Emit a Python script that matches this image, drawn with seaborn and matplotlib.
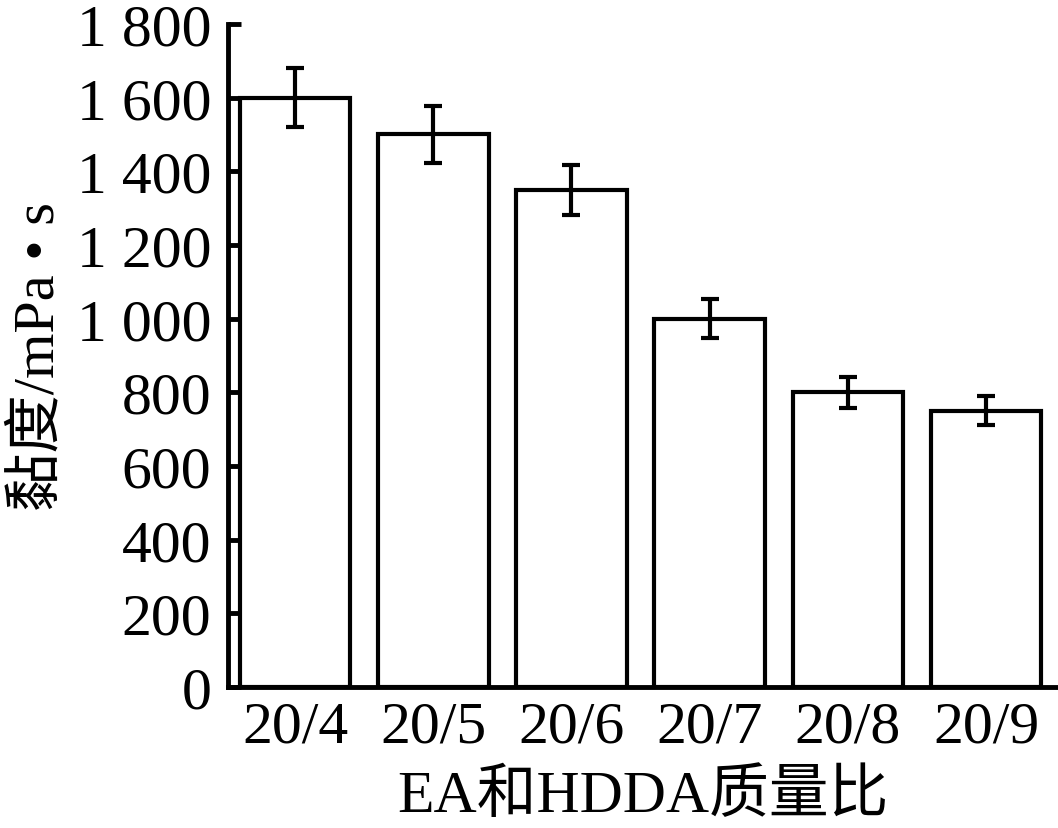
import matplotlib
matplotlib.use("Agg")
import matplotlib.pyplot as plt
import seaborn as sns
import pandas as pd

categories = ["20/4", "20/5", "20/6", "20/7", "20/8", "20/9"]
viscosity = [1600, 1500, 1350, 1000, 800, 750]
errors = [80, 78, 68, 53, 42, 40]
yticks = [0, 200, 400, 600, 800, 1000, 1200, 1400, 1600, 1800]
ytick_labels = ["0", "200", "400", "600", "800", "1 000", "1 200", "1 400", "1 600", "1 800"]

sns.set_theme(style="ticks")
plt.rcParams['font.family'] = ['Liberation Serif', 'Noto Sans CJK SC', 'DejaVu Sans']

df = pd.DataFrame({"ratio": categories, "v": viscosity})

fig = plt.figure(figsize=(10.58, 8.29), dpi=100)
ax = fig.add_axes([0.2155, 0.170, 0.7845, 0.800])

lw = 3.0
sns.barplot(data=df, x="ratio", y="v", ax=ax, color="white", edgecolor="black",
            linewidth=lw, width=0.8, errorbar=None, saturation=1)
ax.errorbar(range(len(categories)), viscosity, yerr=errors, fmt="none",
            ecolor="black", elinewidth=lw, capsize=6.5, capthick=lw)

ax.set_ylim(0, 1800)
ax.set_xlim(-0.485, 5.52)
ax.set_yticks(yticks)
ax.set_yticklabels(ytick_labels)
for s in ["top", "right"]:
    ax.spines[s].set_visible(False)
for s in ["left", "bottom"]:
    ax.spines[s].set_linewidth(3.5)
    ax.spines[s].set_color("black")
ax.tick_params(axis="y", direction="in", length=9, width=3.5, labelsize=43, pad=12, colors="black")
ax.tick_params(axis="x", direction="in", length=7, width=3.5, labelsize=43, pad=10, colors="black")
ax.set_xlabel("EA和HDDA质量比", fontsize=43, labelpad=10, color="black")
ax.set_ylabel("黏度/mPa • s", fontsize=42, labelpad=8, color="black")

fig.savefig("out.png", dpi=100, facecolor="white")
